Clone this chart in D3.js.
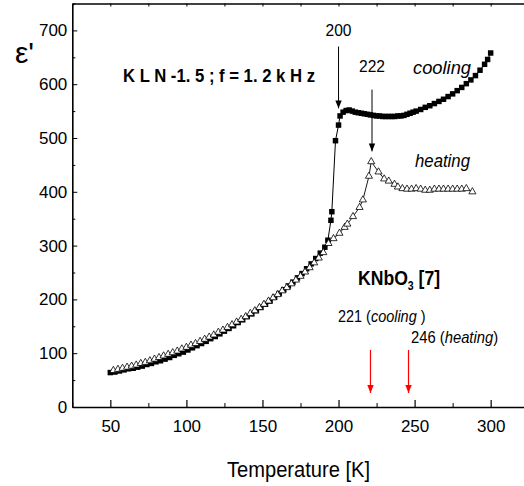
<!DOCTYPE html>
<html><head><meta charset="utf-8">
<script src="https://cdn.jsdelivr.net/npm/d3@7"></script>
<style>
html,body{margin:0;padding:0;background:#fff;}
svg{display:block;}
.nar{font-family:"Liberation Sans Narrow","Arial Narrow","Liberation Sans",sans-serif;}
</style></head>
<body>
<svg id="c" width="524" height="486"></svg>
<script>
// Cooling run (filled squares): temperature [K] and epsilon'
const coolT = [50,53,56,59,62,65,68,71,74,77,80,83,86,89,92,95,98,101,104,107,110,113,116,119,122,125,128,131,134,137,140,143,146,149,152,155,158,161,164,167,170,173,176,179,182,185,188,191,193,195,195.6,198,200,201,203,205,207,209,211,213,215,217,219,221,223,225,227,229,231,233,235,237,239,241,243,245,247,249,251,254,257,260,263,266,269,272,275,278,281,284,287,290,293,296,298,300];
const coolE = [64,65,67,69,71,72,74,76,79,81,84,86,89,92,96,99,102,106,110,114,118,122,127,131,136,141,146,151,157,162,168,173,179,185,191,197,204,211,218,225,232,240,248,257,266,276,286,297,310,347,363,495,524,541,548,551,552,550,548,547,546,545,544,543,542,541,541,540,540,540,540,540,541,541,542,544,546,548,550,553,557,560,564,568,572,577,582,588,594,601,608,616,626,637,646,658];
// Heating run (open triangles)
const heatT = [52,55,58,61,64,67,70,73,76,79,82,85,88,91,94,97,100,103,106,109,112,115,118,121,124,127,130,133,136,139,142,145,148,151,154,157,160,163,166,169,172,175,178,181,184,187,190,193.4,196.7,200.6,204,205.8,209.5,213.8,216,220,221.5,226.3,230,233,236.8,239,242,245,248,251,254,257,260,263,266,269,272,275,278,281,284,288];
const heatE = [68,70,72,74,76,78,81,83,86,89,92,95,98,101,104,108,111,115,118,122,126,130,134,139,143,148,153,158,163,168,174,179,185,191,197,203,209,216,222,229,236,243,251,259,268,277,287,304,313,323,334,340,354,371,385,429,456,437,424,420,414,409,406,405,405,406,405,403,403,405,405,405,405,405,405,405,406,400];
// Axis ticks
const xMajor = [50,100,150,200,250,300];
const xMinor = [25,75,125,175,225,275,325];
const yMajor = [0,100,200,300,400,500,600,700];
const yMinor = [50,150,250,350,450,550,650,750];
// Markers
const arrowsBlack = [{t:200,e0:670,e1:555,label:"200",ly:36},{t:222,e0:590,e1:475,label:"222",ly:72}];
const knbo3 = [221,246];

const svg = d3.select("#c");
const x = d3.scaleLinear().domain([25,325]).range([72.3,528.7]);
const y = d3.scaleLinear().domain([0,750]).range([407,3.5]);

const defs = svg.append("defs");
function marker(id,color){
  defs.append("marker").attr("id",id).attr("viewBox","0 0 10 10").attr("refX",10).attr("refY",5)
   .attr("markerWidth",8).attr("markerHeight",10).attr("markerUnits","userSpaceOnUse").attr("orient","auto")
   .append("path").attr("d","M0,1 L10,5 L0,9 Z").attr("fill",color);
}
marker("ab","#000"); marker("ar","#f00");

// axes
const gB = svg.append("g").attr("transform","translate(0,407)")
  .call(d3.axisBottom(x).tickValues(xMajor).tickSizeInner(-7).tickSizeOuter(0).tickFormat(d3.format("d")));
gB.call(g=>g.select(".domain").attr("stroke-width",1.6));
gB.selectAll(".tick line").attr("stroke-width",1.2);
gB.selectAll(".tick text").attr("class","nar").attr("font-size",17).attr("y",13).attr("fill","#000");
svg.append("g").attr("transform","translate(0,407)")
  .call(d3.axisBottom(x).tickValues(xMinor).tickSizeInner(-4).tickSizeOuter(0).tickFormat(""))
  .call(g=>g.select(".domain").remove());
const gT = svg.append("g").attr("transform","translate(0,3.5)")
  .call(d3.axisTop(x).tickValues(xMajor.concat(xMinor)).tickSizeInner(-3).tickSizeOuter(0).tickFormat(""));
gT.select(".domain").attr("stroke-width",1.4);

const gL = svg.append("g").attr("transform","translate(72.3,0)")
  .call(d3.axisLeft(y).tickValues(yMajor).tickSizeInner(-5).tickSizeOuter(0).tickFormat(d3.format("d")));
gL.select(".domain").attr("stroke-width",1.6);
gL.selectAll(".tick text").attr("class","nar").attr("font-size",17).attr("x",-5).attr("fill","#000");
svg.append("g").attr("transform","translate(72.3,0)")
  .call(d3.axisLeft(y).tickValues(yMinor).tickSizeInner(-3).tickSizeOuter(0).tickFormat(""))
  .call(g=>g.select(".domain").remove());

// data
const cool = coolT.map((t,i)=>({t,e:coolE[i]}));
const heat = heatT.map((t,i)=>({t,e:heatE[i]}));
const line = d3.line().x(d=>x(d.t)).y(d=>y(d.e));
svg.append("path").datum(heat).attr("d",line).attr("fill","none").attr("stroke","#000").attr("stroke-width",0.9);
svg.append("path").datum(cool).attr("d",line).attr("fill","none").attr("stroke","#000").attr("stroke-width",1);
const sq = d3.symbol().type(d3.symbolSquare).size(30);
svg.append("g").selectAll("path").data(cool).join("path").attr("d",sq)
  .attr("transform",d=>`translate(${x(d.t)},${y(d.e)})`).attr("fill","#000");
const tri = d3.symbol().type(d3.symbolTriangle).size(22);
svg.append("g").selectAll("path").data(heat).join("path").attr("d",tri)
  .attr("transform",d=>`translate(${x(d.t)},${y(d.e)})`).attr("fill","#fff").attr("stroke","#000").attr("stroke-width",0.8);

// annotation arrows
arrowsBlack.forEach(a=>{
  svg.append("line").attr("x1",x(a.t)).attr("x2",x(a.t)).attr("y1",y(a.e0)).attr("y2",y(a.e1))
    .attr("stroke","#000").attr("stroke-width",1).attr("marker-end","url(#ab)");
  svg.append("text").attr("class","nar").attr("x",x(a.t)).attr("y",a.ly).attr("text-anchor","middle")
    .attr("font-size",17).attr("textLength",26).attr("lengthAdjust","spacingAndGlyphs").text(a.label);
});
knbo3.forEach(t=>{
  svg.append("line").attr("x1",x(t)).attr("x2",x(t)).attr("y1",350).attr("y2",393)
    .attr("stroke","#f00").attr("stroke-width",1.2).attr("marker-end","url(#ar)");
});

// texts
svg.append("text").attr("x",123).attr("y",82).attr("font-family","Liberation Sans, Arial, sans-serif")
  .attr("font-weight","bold").attr("font-size",18).attr("textLength",192).attr("lengthAdjust","spacingAndGlyphs")
  .text("K L N -1. 5 ; f = 1. 2 k H z");
svg.append("text").attr("class","nar").attr("x",413).attr("y",74).attr("font-style","italic").attr("font-size",19)
  .attr("textLength",58).attr("lengthAdjust","spacingAndGlyphs").text("cooling");
svg.append("text").attr("class","nar").attr("x",415).attr("y",167).attr("font-style","italic").attr("font-size",19)
  .attr("textLength",55).attr("lengthAdjust","spacingAndGlyphs").text("heating");
const kt = svg.append("text").attr("class","nar").attr("transform","translate(358,285) scale(0.88,1)")
  .attr("font-weight","bold").attr("font-size",20);
kt.append("tspan").text("KNbO");
kt.append("tspan").attr("font-size",12).attr("dy",5).text("3");
kt.append("tspan").attr("dy",-5).text(" [7]");
const t1 = svg.append("text").attr("class","nar").attr("transform","translate(338,322) scale(0.85,1)").attr("font-size",17);
t1.append("tspan").text("221 (");
t1.append("tspan").attr("font-style","italic").text("cooling");
t1.append("tspan").text(" )");
const t2 = svg.append("text").attr("class","nar").attr("transform","translate(411,343) scale(0.87,1)").attr("font-size",17);
t2.append("tspan").text("246 (");
t2.append("tspan").attr("font-style","italic").text("heating");
t2.append("tspan").text(")");

svg.append("text").attr("class","nar").attr("x",227).attr("y",477).attr("font-size",22)
  .attr("textLength",143).attr("lengthAdjust","spacingAndGlyphs").text("Temperature [K]");
svg.append("text").attr("x",15).attr("y",63).attr("font-family","Liberation Sans, Arial, sans-serif").attr("font-size",30).text("ε'");
</script>
</body></html>
